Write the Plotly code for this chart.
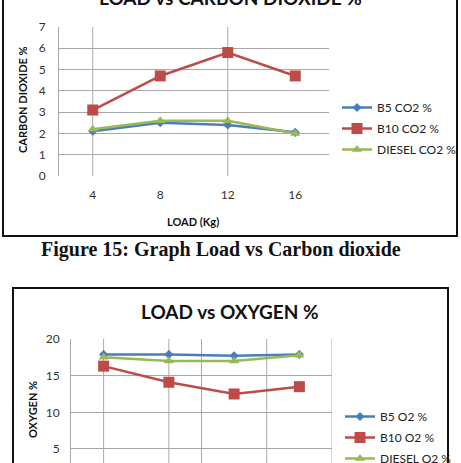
import plotly.graph_objects as go

W, H = 461, 463

loads = [4, 8, 12, 16]
b5_co2 = [2.1, 2.5, 2.4, 2.05]
b10_co2 = [3.1, 4.7, 5.8, 4.7]
diesel_co2 = [2.2, 2.6, 2.6, 2.0]

b5_o2 = [17.9, 17.9, 17.7, 17.9]
b10_o2 = [16.3, 14.1, 12.5, 13.5]
diesel_o2 = [17.5, 17.0, 17.0, 17.8]

co2_names = ["B5 CO2 %", "B10 CO2 %", "DIESEL CO2 %"]
o2_names = ["B5 O2 %", "B10 O2 %", "DIESEL O2 %"]

BLUE, RED, GREEN = "#4a7ebb", "#be4b48", "#98b954"
GRID = "#a8a8a8"
FONT = "Lato"


def px(x):
    return x / W


def py(y):
    return 1 - y / H


fig = go.Figure()

styles = [
    (BLUE, "diamond", 7),
    (RED, "square", 11),
    (GREEN, "triangle-up", 9),
]

for vals, name, (c, sym, sz), grp in zip([b5_co2, b10_co2, diesel_co2], co2_names, styles, ["a", "b", "c"]):
    fig.add_trace(go.Scatter(
        x=loads, y=vals, name=name, mode="lines+markers",
        line=dict(color=c, width=2.5), marker=dict(symbol=sym, size=sz, color=c),
        xaxis="x", yaxis="y", legend="legend", legendgroup=grp))

for vals, name, (c, sym, sz), grp in zip([b5_o2, b10_o2, diesel_o2], o2_names, styles, ["d", "e", "f"]):
    fig.add_trace(go.Scatter(
        x=loads, y=vals, name=name, mode="lines+markers",
        line=dict(color=c, width=2.5), marker=dict(symbol=sym, size=sz, color=c),
        xaxis="x2", yaxis="y2", legend="legend2", legendgroup=grp))

tickfont = dict(family=FONT, size=12, color="#333333")

fig.update_layout(
    width=W, height=H,
    margin=dict(l=0, r=0, t=0, b=0, autoexpand=False),
    paper_bgcolor="white", plot_bgcolor="white",
    showlegend=True,
    xaxis=dict(domain=[px(59), px(329)], range=[2, 18], tickvals=loads,
               showgrid=False, zeroline=False, showline=False, ticks="",
               tickfont=tickfont, ticklabelstandoff=10, anchor="y"),
    yaxis=dict(domain=[py(176), py(27)], range=[0, 7], dtick=1,
               showgrid=True, gridcolor=GRID, gridwidth=1, zeroline=False,
               showline=True, linecolor=GRID, ticks="", tickfont=tickfont,
               ticklabelstandoff=10, anchor="x"),
    xaxis2=dict(domain=[px(71), px(332)], range=[2, 18], tickvals=loads,
                showgrid=False, zeroline=False, showline=False, ticks="",
                showticklabels=False, anchor="y2"),
    yaxis2=dict(domain=[0, py(339)], range=[20 - (H - 339) / 7.33, 20],
                tickvals=[5, 10, 15, 20],
                showgrid=True, gridcolor=GRID, gridwidth=1, zeroline=False,
                showline=True, linecolor=GRID, ticks="", tickfont=tickfont,
                ticklabelstandoff=8, anchor="x2"),
    legend=dict(x=px(337), y=py(93), xanchor="left", yanchor="top",
                font=dict(family=FONT, size=12, color="#222"),
                tracegroupgap=2, bgcolor="rgba(0,0,0,0)", itemwidth=30),
    legend2=dict(x=px(340), y=py(402), xanchor="left", yanchor="top",
                 font=dict(family=FONT, size=12, color="#222"),
                 tracegroupgap=2, bgcolor="rgba(0,0,0,0)", itemwidth=30),
)

# vertical gridlines
for xv in [4, 12]:
    fig.add_shape(type="line", xref="x", yref="y domain", x0=xv, x1=xv, y0=0, y1=1,
                  line=dict(color=GRID, width=1), layer="below")
for xv in [4, 8, 10, 14, 18]:
    fig.add_shape(type="line", xref="x2", yref="y2 domain", x0=xv, x1=xv, y0=0, y1=1,
                  line=dict(color=GRID, width=1), layer="below")

# chart frames
fig.add_shape(type="rect", xref="paper", yref="paper", x0=px(3), x1=px(457), y0=py(236), y1=py(-20),
              line=dict(color="#111", width=2))
fig.add_shape(type="rect", xref="paper", yref="paper", x0=px(13), x1=px(448), y0=py(500), y1=py(288),
              line=dict(color="#111", width=2))

ann = [
    dict(text="<b>LOAD vs CARBON DIOXIDE %</b>", x=px(230), y=py(-2), font=dict(family=FONT, size=19, color="#111")),
    dict(text="<b>CARBON DIOXIDE %</b>", x=px(23), y=py(100), textangle=-90, font=dict(family=FONT, size=11, color="#111")),
    dict(text="<b>LOAD (Kg)</b>", x=px(193), y=py(221), font=dict(family=FONT, size=11, color="#111")),
    dict(text="<b>Figure 15: Graph Load vs Carbon dioxide</b>", x=px(221), y=py(250),
         font=dict(family="Liberation Serif", size=20, color="#111")),
    dict(text="<b>LOAD vs OXYGEN %</b>", x=px(230), y=py(311), font=dict(family=FONT, size=19, color="#111")),
    dict(text="<b>OXYGEN %</b>", x=px(32), y=py(410), textangle=-90, font=dict(family=FONT, size=11, color="#111")),
]
for a in ann:
    fig.add_annotation(xref="paper", yref="paper", showarrow=False, xanchor="center", yanchor="middle", **a)

fig.write_html("out.html")
